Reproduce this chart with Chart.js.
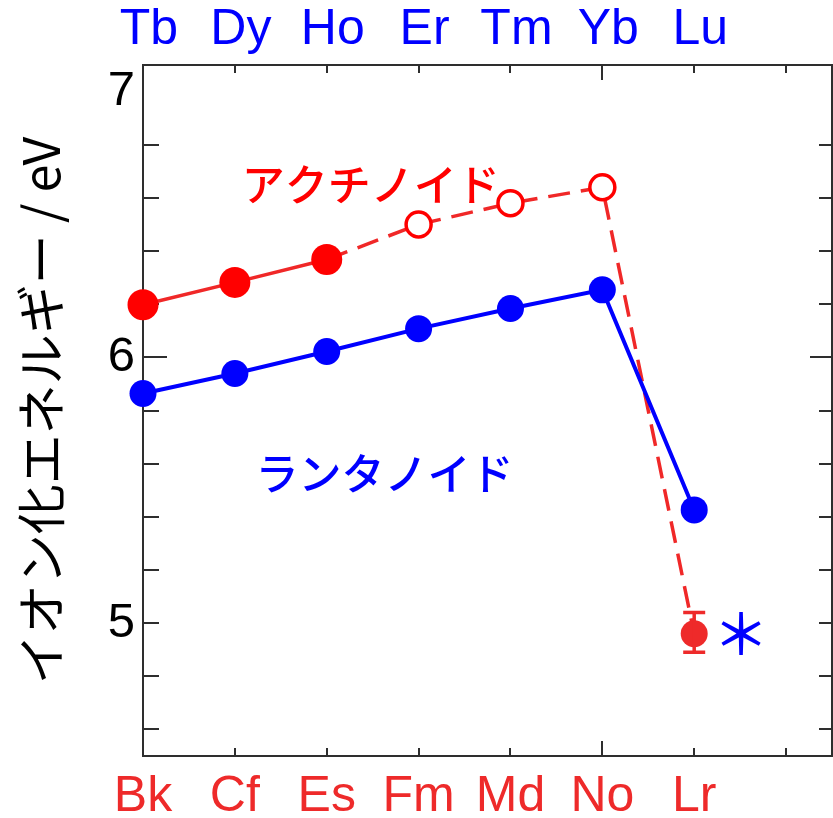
<!DOCTYPE html>
<html><head><meta charset="utf-8">
<script src="https://cdn.jsdelivr.net/npm/chart.js@4"></script>
<style>html,body{margin:0;padding:0;background:#fff;overflow:hidden}#wrap{width:833px;height:818px;position:relative}</style>
</head><body><div id="wrap"><canvas id="c" width="833" height="818"></canvas></div>
<script>
// ---- data ----
const actinides = ['Bk', 'Cf', 'Es', 'Fm', 'Md', 'No', 'Lr'];
const lanthanides = ['Tb', 'Dy', 'Ho', 'Er', 'Tm', 'Yb', 'Lu'];
const actinideIE = [6.198, 6.282, 6.368, 6.50, 6.58, 6.64, 4.96];
const lanthanideIE = [5.864, 5.939, 6.022, 6.108, 6.184, 6.254, 5.426];
const actinideFilled = [true, true, true, false, false, false, true];
const lrErrorPlus = 0.08;
const lrErrorMinus = 0.07;
const yTickValues = [5, 6, 7];
const yTickLabels = ['5', '6', '7'];
const yTitle = 'イオン化エネルギー / eV';
const actinideName = 'アクチノイド';
const lanthanideName = 'ランタノイド';

// ---- styles ----
const RED = '#ff0000', RED_LINE = 'rgb(240,40,40)', RED_LR = '#ee2a2a', LABEL_RED = '#ee2a2a';
const BLUE = '#0000ff';
const AXIS = '#2e2e2e';
const LATIN = '"Liberation Sans", Arial, sans-serif';
const CJK = '"Noto Sans CJK JP", sans-serif';

const frameTicks = {
  id: 'frameTicks',
  beforeDatasetsDraw(chart) {
    const {ctx, chartArea: a, scales: {x, y}} = chart;
    ctx.save();
    ctx.strokeStyle = AXIS; ctx.lineWidth = 2;
    ctx.beginPath();
    for (let k = 1; k <= 12; k++) {
      const v = 4.5 + 0.1 + (k - 1) * 0.2;
      const py = Math.round(y.getPixelForValue(v));
      const major = Math.abs(v - 6) < 1e-6;
      ctx.moveTo(a.left, py); ctx.lineTo(a.left + (major ? 24 : 16), py);
      ctx.moveTo(a.right, py); ctx.lineTo(a.right - (major ? 22 : 13), py);
    }
    for (let i = 1; i <= 7; i++) {
      const px = Math.round(x.getPixelForValue(i));
      const len = i === 5 ? 15 : 8;
      ctx.moveTo(px, a.top); ctx.lineTo(px, a.top + len);
      ctx.moveTo(px, a.bottom); ctx.lineTo(px, a.bottom - len);
    }
    ctx.stroke();
    ctx.restore();
  },
  afterDatasetsDraw(chart) {
    const {ctx, scales: {x, y}} = chart;
    const i = actinides.length - 1;
    const px = x.getPixelForValue(i);
    const t = y.getPixelForValue(actinideIE[i] + lrErrorPlus);
    const b = y.getPixelForValue(actinideIE[i] - lrErrorMinus);
    ctx.save();
    ctx.strokeStyle = RED_LR; ctx.lineWidth = 3.5;
    ctx.beginPath();
    ctx.moveTo(px, t); ctx.lineTo(px, b);
    ctx.moveTo(px - 11, t); ctx.lineTo(px + 11, t);
    ctx.moveTo(px - 11, b); ctx.lineTo(px + 11, b);
    ctx.stroke();
    ctx.restore();
  },
  afterDraw(chart) {
    const {ctx, scales: {x, y}} = chart;
    ctx.save();
    ctx.textAlign = 'center'; ctx.textBaseline = 'middle';
    ctx.font = '500 43px ' + CJK;
    ctx.fillStyle = RED;
    ctx.fillText(actinideName, x.getPixelForValue(2.48), y.getPixelForValue(6.65));
    ctx.fillStyle = BLUE;
    ctx.fillText(lanthanideName, x.getPixelForValue(2.63), y.getPixelForValue(5.563));
    ctx.font = '500 56px ' + CJK;
    ctx.fillText('＊', x.getPixelForValue(6.51), y.getPixelForValue(4.96));
    ctx.restore();
  }
};

const xBase = (labels, color, pos, h, pad, shift) => ({
  type: 'linear', position: pos, min: 0, max: 7.5,
  grid: {drawOnChartArea: false, drawTicks: false},
  border: {display: true, color: AXIS, width: 2},
  afterBuildTicks: s => { s.ticks = labels.map((_, i) => ({value: i})); },
  afterFit: s => { s.height = h; s.paddingLeft = 0; s.paddingRight = 0; },
  ticks: {
    autoSkip: false, maxRotation: 0, minRotation: 0, padding: pad, labelOffset: shift,
    color: color, font: {family: LATIN, size: 50, lineHeight: 1.2},
    callback: (v, idx) => labels[idx]
  }
});

new Chart(document.getElementById('c'), {
  type: 'line',
  data: {
    datasets: [
      {
        label: lanthanideName,
        data: lanthanideIE.map((v, i) => ({x: i, y: v})),
        borderColor: BLUE, backgroundColor: BLUE, borderWidth: 4,
        pointRadius: 13.5, pointBorderWidth: 0, pointBackgroundColor: BLUE,
        tension: 0, clip: false
      },
      {
        label: actinideName,
        data: actinideIE.map((v, i) => ({x: i, y: v})),
        borderColor: RED_LINE, borderWidth: 3.5,
        pointRadius: actinideFilled.map((f, i) => i === 6 ? 13.5 : (f ? 15.5 : 12.5)),
        pointBackgroundColor: actinideFilled.map((f, i) => f ? (i === 6 ? RED_LR : RED) : '#ffffff'),
        pointBorderColor: actinideFilled.map((f, i) => i === 6 ? RED_LR : RED),
        pointBorderWidth: actinideFilled.map(f => f ? 0 : 3.5),
        segment: {borderDash: c => c.p0DataIndex >= 2 ? [22, 11] : undefined},
        tension: 0, clip: false
      }
    ]
  },
  options: {
    responsive: false, animation: false, events: [],
    layout: {padding: 0, autoPadding: false},
    plugins: {legend: {display: false}, tooltip: {enabled: false}, title: {display: false}},
    scales: {
      x: xBase(actinides, LABEL_RED, 'bottom', 62, 11, 0),
      x2: xBase(lanthanides, BLUE, 'top', 65, 5, 6),
      y: {
        type: 'linear', position: 'left', min: 4.5, max: 7.1,
        grid: {drawOnChartArea: false, drawTicks: false},
        border: {display: true, color: AXIS, width: 2},
        afterBuildTicks: s => { s.ticks = yTickValues.map(v => ({value: v})); },
        afterFit: s => { s.width = 143; s.paddingTop = 0; s.paddingBottom = 0; },
        ticks: {
          padding: 8, color: '#000',
          font: {family: LATIN, size: 49},
          callback: (v, idx) => yTickLabels[idx]
        },
        title: {
          display: true, text: yTitle, color: '#000',
          font: {family: CJK, size: 50, lineHeight: 1.2},
          padding: {top: 11, bottom: 0}
        }
      },
      y2: {
        type: 'linear', position: 'right', min: 4.5, max: 7.1,
        grid: {drawOnChartArea: false, drawTicks: false},
        border: {display: true, color: AXIS, width: 2},
        ticks: {display: false},
        afterFit: s => { s.width = 1; s.paddingTop = 0; s.paddingBottom = 0; }
      }
    }
  },
  plugins: [frameTicks]
});
</script>
</body></html>
